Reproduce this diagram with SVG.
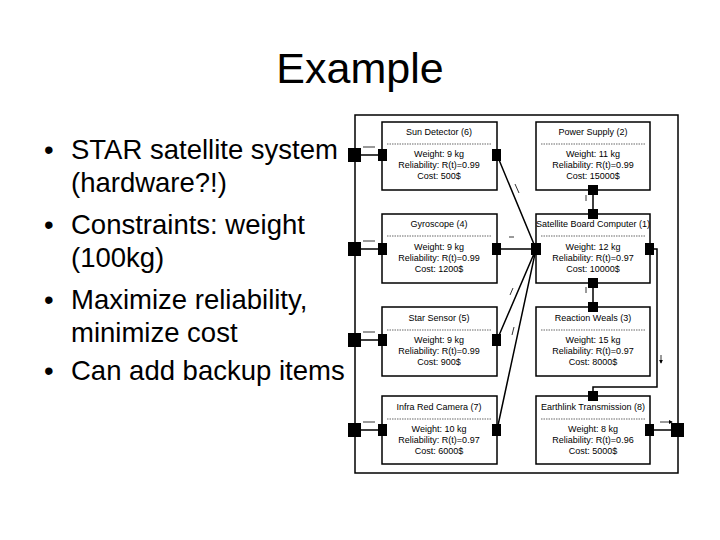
<svg xmlns="http://www.w3.org/2000/svg" width="720" height="540" viewBox="0 0 720 540">
<style>
.t{font-family:"Liberation Sans",Arial,sans-serif;fill:#000}
.b{font-size:27.5px}
.n{font-size:9px;text-anchor:middle}
.box{fill:#fff;stroke:#000;stroke-width:1.5}
.p{fill:#000}
.c{stroke:#000;stroke-width:1.5;fill:none}
.a{stroke:#000;stroke-width:0.8;fill:none;marker-end:url(#ah)}
.d{stroke:#000;stroke-width:0.6;stroke-dasharray:1.5 1}
</style>
<defs><marker id="ah" markerWidth="5" markerHeight="5" refX="4" refY="2.5" orient="auto"><path d="M0,0L5,2.5L0,5z"/></marker></defs>
<rect width="720" height="540" fill="#fff"/>
<text class="t" x="360" y="83" font-size="43" text-anchor="middle">Example</text>
<g class="t b">
<text x="44" y="159">•</text><text x="71" y="159">STAR satellite system</text>
<text x="71" y="192">(hardware?!)</text>
<text x="44" y="234">•</text><text x="71" y="234">Constraints: weight</text>
<text x="71" y="267">(100kg)</text>
<text x="44" y="309">•</text><text x="71" y="309">Maximize reliability,</text>
<text x="71" y="342">minimize cost</text>
<text x="44" y="380">•</text><text x="71" y="380">Can add backup items</text>
</g>
<rect x="355" y="115" width="323" height="358" fill="none" stroke="#000" stroke-width="1.5"/>
<g id="connectors">
<path class="c" d="M355,155H382M355,249H382M355,340H382M355,430H382"/>
<path class="c" d="M497,155L536,249M497,249H536M497,340L536,249M497,430L536,249"/>
<path class="c" d="M593,190V214M593,283V307M650,249H657V387H593V396M650,430H678"/>
<path class="a" d="M363,147H375M363,241H375M363,332H375M363,422H375M509,237l5,0M660,422H672"/>
<path class="a" d="M515,184l4,9M510,295l3,-7M512,335l2,-8M586,195v6M586,287v6M661,355v8"/>
</g>
<g id="sun"><rect class="box" x="382" y="122" width="115" height="68"/><text class="t n" x="439" y="135">Sun Detector (6)</text><line class="d" x1="387" y1="144" x2="492" y2="144"/><text class="t n" x="439" y="157">Weight: 9 kg</text><text class="t n" x="439" y="168">Reliability: R(t)=0.99</text><text class="t n" x="439" y="179">Cost: 500$</text></g>
<g id="gyro"><rect class="box" x="382" y="214" width="115" height="69"/><text class="t n" x="439" y="227">Gyroscope (4)</text><line class="d" x1="387" y1="236" x2="492" y2="236"/><text class="t n" x="439" y="250">Weight: 9 kg</text><text class="t n" x="439" y="261">Reliability: R(t)=0.99</text><text class="t n" x="439" y="272">Cost: 1200$</text></g>
<g id="star"><rect class="box" x="382" y="307" width="115" height="69"/><text class="t n" x="439" y="321">Star Sensor (5)</text><line class="d" x1="387" y1="330" x2="492" y2="330"/><text class="t n" x="439" y="343">Weight: 9 kg</text><text class="t n" x="439" y="354">Reliability: R(t)=0.99</text><text class="t n" x="439" y="365">Cost: 900$</text></g>
<g id="ir"><rect class="box" x="382" y="396" width="115" height="68"/><text class="t n" x="439" y="410">Infra Red Camera (7)</text><line class="d" x1="387" y1="419" x2="492" y2="419"/><text class="t n" x="439" y="432">Weight: 10 kg</text><text class="t n" x="439" y="443">Reliability: R(t)=0.97</text><text class="t n" x="439" y="454">Cost: 6000$</text></g>
<g id="power"><rect class="box" x="536" y="122" width="114" height="68"/><text class="t n" x="593" y="135">Power Supply (2)</text><line class="d" x1="541" y1="144" x2="645" y2="144"/><text class="t n" x="593" y="157">Weight: 11 kg</text><text class="t n" x="593" y="168">Reliability: R(t)=0.99</text><text class="t n" x="593" y="179">Cost: 15000$</text></g>
<g id="computer"><rect class="box" x="536" y="214" width="114" height="69"/><text class="t n" x="593" y="227" font-size="8.5">Satellite Board Computer (1)</text><line class="d" x1="541" y1="236" x2="645" y2="236"/><text class="t n" x="593" y="250">Weight: 12 kg</text><text class="t n" x="593" y="261">Reliability: R(t)=0.97</text><text class="t n" x="593" y="272">Cost: 10000$</text></g>
<g id="reaction"><rect class="box" x="536" y="307" width="114" height="69"/><text class="t n" x="593" y="321">Reaction Weals (3)</text><line class="d" x1="541" y1="330" x2="645" y2="330"/><text class="t n" x="593" y="343">Weight: 15 kg</text><text class="t n" x="593" y="354">Reliability: R(t)=0.97</text><text class="t n" x="593" y="365">Cost: 8000$</text></g>
<g id="earth"><rect class="box" x="536" y="396" width="114" height="68"/><text class="t n" x="593" y="410" font-size="8.5">Earthlink Transmission (8)</text><line class="d" x1="541" y1="419" x2="645" y2="419"/><text class="t n" x="593" y="432">Weight: 8 kg</text><text class="t n" x="593" y="443">Reliability: R(t)=0.96</text><text class="t n" x="593" y="454">Cost: 5000$</text></g>
<g id="ports" class="p">
<rect x="348" y="148" width="13" height="14"/><rect x="348" y="242" width="13" height="14"/><rect x="348" y="333" width="13" height="14"/><rect x="348" y="423" width="13" height="14"/>
<rect x="378" y="149" width="9" height="12"/><rect x="378" y="243" width="9" height="12"/><rect x="378" y="334" width="9" height="12"/><rect x="378" y="424" width="9" height="12"/>
<rect x="492" y="149" width="9" height="12"/><rect x="492" y="243" width="9" height="12"/><rect x="492" y="334" width="9" height="12"/><rect x="492" y="424" width="9" height="12"/>
<rect x="531" y="243" width="10" height="12"/><rect x="645" y="243" width="9" height="12"/><rect x="645" y="424" width="9" height="12"/><rect x="671" y="423" width="13" height="14"/>
<rect x="588" y="185" width="10" height="10"/><rect x="588" y="209" width="10" height="10"/><rect x="588" y="278" width="10" height="10"/><rect x="588" y="302" width="10" height="10"/><rect x="588" y="391" width="10" height="10"/>
</g>
</svg>
